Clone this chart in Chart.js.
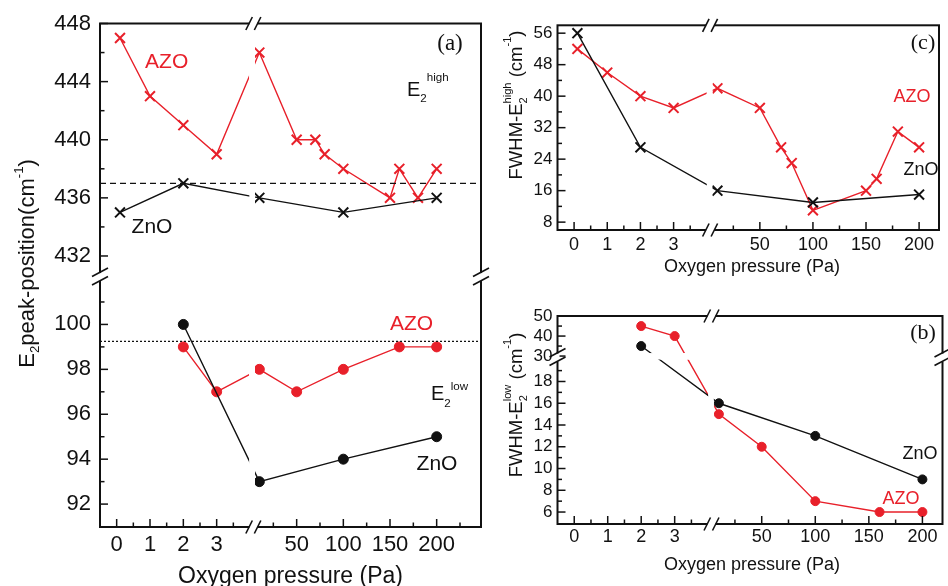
<!doctype html>
<html>
<head>
<script src="https://cdnjs.cloudflare.com/ajax/libs/Chart.js/4.4.1/chart.umd.min.js"></script>
<style>
  body { margin: 0; background: #fff; }
  canvas { position: absolute; }
</style>
</head>
<body>
<canvas id="ca" width="490" height="586" style="left:0;top:0"></canvas>
<canvas id="cc" width="458" height="280" style="left:490px;top:0"></canvas>
<canvas id="cb" width="458" height="306" style="left:490px;top:280px"></canvas>
<script>
// E2 high peak position (cm-1) vs oxygen pressure (Pa)
const azoHighP   = [0.1, 1, 2, 3, 10, 50, 70, 80, 100, 150, 160, 180, 200];
const azoHighPos = [447, 443, 441, 439, 446, 440, 440, 439, 438, 436, 438, 436, 438];
const znoHighP   = [0.1, 2, 10, 100, 200];
const znoHighPos = [435, 437, 436, 435, 436];
// E2 low peak position
const azoLowP   = [2, 3, 10, 50, 100, 160, 200];
const azoLowPos = [99, 97, 98, 97, 98, 99, 99];
const znoLowP   = [2, 10, 100, 200];
const znoLowPos = [100, 93, 94, 95];
const highRef = 437;
const lowRef = 99.25;
// FWHM of E2 high / E2 low (cm-1)
const azoHighFwhm = [52, 46, 40, 37, 42, 37, 27, 23, 11, 16, 19, 31, 27];
const znoHighFwhm = [56, 27, 16, 13, 15];
const azoLowFwhm  = [45, 40, 15, 12, 7, 6, 6];
const znoLowFwhm  = [35, 16, 13, 9];

// tick values
const xMajor = [0, 1, 2, 3, 50, 100, 150, 200];
const xMinor = [0.5, 1.5, 2.5, 3.5, 25, 75, 125, 175, 225];
const yAMajor = [92, 94, 96, 98, 100, 432, 436, 440, 444, 448];
const yAMinor = [93, 95, 97, 99, 101, 434, 438, 442, 446];
const yCMajor = [8, 16, 24, 32, 40, 48, 56];
const yCMinor = [12, 20, 28, 36, 44, 52];
const yBMajor = [6, 8, 10, 12, 14, 16, 18, 30, 40, 50];
const yBMinor = [7, 9, 11, 13, 15, 17, 19, 35, 45];

const RED = '#e8202a';
const INK = '#111';
const SANS = '"Liberation Sans", Arial, sans-serif';
const SERIF = '"Liberation Serif", "Times New Roman", serif';

// broken axes: 0-3 Pa linear, then a compressed 0-200 Pa segment after the break
const pressAxis = k => p => p < 4 ? p : 4 + k * p;
const xA = pressAxis(0.028);
const xBC = pressAxis(0.032);
const yA = v => v < 200 ? v - 90.98 : 11.13 + (v - 430.55) * 0.647;
const yB = v => v < 25 ? v : 20.2 + (v - 29.25) * 0.1838;
const yC = v => v;

function tickList(major, minor, map, lo, hi) {
  return major.map(v => ({ value: map(v), txt: String(v), minor: false }))
    .concat(minor.map(v => ({ value: map(v), txt: '', minor: true })))
    .filter(t => t.value >= lo - 1e-3 && t.value <= hi + 1e-3)
    .sort((a, b) => a.value - b.value);
}

function richText(ctx, runs, x, y, size, color, o = {}) {
  const sub = o.subShift ?? 0.27, sup = o.supShift ?? 0.55, r = o.ratio ?? 0.6;
  const fam = o.serif ? SERIF : SANS;
  ctx.save();
  ctx.translate(x, y);
  if (o.rot) ctx.rotate(-Math.PI / 2);
  ctx.fillStyle = color;
  ctx.textBaseline = 'alphabetic';
  ctx.textAlign = 'left';
  const parts = runs.map(([t, k]) => {
    const fs = k ? size * r : size;
    ctx.font = fs + 'px ' + fam;
    return { t, k, fs, w: ctx.measureText(t).width };
  });
  // lay out runs; 'supOver' sits above the preceding subscript
  let cx = 0, prevStart = 0, prevW = 0;
  const pos = parts.map(p => {
    let px;
    if (p.k === 'supOver') {
      px = prevStart;
      cx = prevStart + Math.max(prevW, p.w);
    } else {
      px = cx;
      cx += p.w;
    }
    prevStart = px; prevW = p.w;
    return px;
  });
  const off = o.center ? -cx / 2 : 0;
  parts.forEach((p, i) => {
    ctx.font = p.fs + 'px ' + fam;
    const dy = p.k === 'sub' ? size * sub : (p.k ? -size * sup : 0);
    ctx.fillText(p.t, pos[i] + off, dy);
  });
  ctx.restore();
}

function slash(ctx, x1, y1, x2, y2) {
  ctx.beginPath(); ctx.moveTo(x1, y1); ctx.lineTo(x2, y2); ctx.stroke();
}

const deco = cfg => ({
  id: 'deco',
  afterDatasetDraw(chart, args) {
    if (!chart.data.datasets[args.index].cut) return;
    const { ctx, chartArea: a, scales } = chart;
    ctx.save();
    ctx.fillStyle = '#fff';
    const x0 = scales.x.getPixelForValue(cfg.xCut[0]);
    const x1 = scales.x.getPixelForValue(cfg.xCut[1]);
    ctx.fillRect(x0, a.top, x1 - x0, a.height);
    if (cfg.yCut) {
      const yb = scales.y.getPixelForValue(cfg.yBreak);
      ctx.fillRect(a.left, yb + cfg.yCut[0], a.width, cfg.yCut[1] - cfg.yCut[0]);
    }
    ctx.restore();
  },
  afterDraw(chart) {
    const { ctx, chartArea: a, scales: { x, y } } = chart;
    ctx.save();
    ctx.strokeStyle = INK;
    // inward ticks
    ctx.lineWidth = 1.5;
    for (const t of x.ticks) {
      const px = x.getPixelForValue(t.value);
      slash(ctx, px, a.bottom, px, a.bottom - (t.minor ? 4.5 : 8));
    }
    for (const t of y.ticks) {
      const py = y.getPixelForValue(t.value);
      slash(ctx, a.left, py, a.left + (t.minor ? 4.5 : 8), py);
    }
    // frame
    ctx.lineWidth = 2;
    ctx.strokeRect(a.left, a.top, a.width, a.height);
    // break marks
    ctx.fillStyle = '#fff';
    ctx.lineWidth = 1.6;
    const xb = x.getPixelForValue(cfg.xBreak);
    for (const yy of [a.top, a.bottom]) {
      ctx.fillRect(xb - 4, yy - 2, 8, 4);
      slash(ctx, xb - 7.5, yy + 6.5, xb - 1, yy - 6.5);
      slash(ctx, xb + 1, yy + 6.5, xb + 7.5, yy - 6.5);
    }
    if (cfg.yBreak != null) {
      const yb = y.getPixelForValue(cfg.yBreak);
      for (const xx of [a.left, a.right]) {
        ctx.fillRect(xx - 2, yb - 4, 4, 8);
        slash(ctx, xx - 8, yb - 0.5, xx + 8, yb - 9);
        slash(ctx, xx - 8, yb + 8, xx + 8, yb - 0.5);
      }
    }
    ctx.restore();
    cfg.texts(ctx);
  }
});

function series(P, V, xm, ym, color, style, r, order) {
  return {
    data: P.map((p, i) => ({ x: xm(p), y: ym(V[i]) })),
    borderColor: color, backgroundColor: color,
    borderWidth: 1.4,
    pointStyle: style, pointRadius: r,
    pointBorderWidth: style === 'crossRot' ? 2 : 1,
    pointBackgroundColor: color, pointBorderColor: color,
    tension: 0, order, cut: true
  };
}

function refLine(yv, xm0, xm1, dash) {
  return {
    data: [{ x: xm0, y: yv }, { x: xm1, y: yv }],
    borderColor: INK, borderWidth: 1.3, borderDash: dash,
    pointRadius: 0, order: -1
  };
}

function panel(id, cfg) {
  new Chart(document.getElementById(id), {
    type: 'line',
    data: { datasets: cfg.datasets },
    options: {
      responsive: false,
      animation: false,
      events: [],
      layout: { padding: cfg.pad },
      plugins: { legend: { display: false }, tooltip: { enabled: false } },
      scales: {
        x: {
          type: 'linear', min: cfg.xMin, max: cfg.xMax,
          afterFit: s => { s.height = cfg.xH; },
          afterBuildTicks: s => { s.ticks = tickList(xMajor, xMinor, cfg.xMap, cfg.xMin, cfg.xMax); },
          grid: { display: false, drawTicks: false },
          border: { display: false },
          ticks: {
            autoSkip: false, maxRotation: 0, padding: cfg.xPad, color: INK,
            font: { family: SANS, size: cfg.xFont },
            callback: (v, i, t) => t[i].txt
          }
        },
        y: {
          type: 'linear', min: cfg.yMin, max: cfg.yMax,
          afterFit: s => { s.width = cfg.yW; },
          afterBuildTicks: s => { s.ticks = tickList(cfg.yMajor, cfg.yMinor, cfg.yMap, cfg.yMin, cfg.yMax); },
          grid: { display: false, drawTicks: false },
          border: { display: false },
          ticks: {
            autoSkip: false, padding: cfg.yPad, color: INK,
            font: { family: SANS, size: cfg.yFont },
            callback: (v, i, t) => t[i].txt
          }
        }
      }
    },
    plugins: [deco(cfg)]
  });
}

// (a) peak positions
panel('ca', {
  xMap: xA, xMin: -0.5, xMax: 10.93,
  yMap: yA, yMin: 0, yMax: yA(448), yMajor: yAMajor, yMinor: yAMinor,
  pad: { left: 40, top: 23.5, right: 9, bottom: 19 }, yW: 60, xH: 40,
  xFont: 22, yFont: 22, xPad: 5, yPad: 9,
  xBreak: 4.1, xCut: [3.98, 4.15], yBreak: 11.13, yCut: null,
  datasets: [
    series(azoHighP, azoHighPos, xA, yA, RED, 'crossRot', 7, 1),
    series(znoHighP, znoHighPos, xA, yA, INK, 'crossRot', 7, 0),
    series(azoLowP, azoLowPos, xA, yA, RED, 'circle', 5, 1),
    series(znoLowP, znoLowPos, xA, yA, INK, 'circle', 5, 0),
    refLine(yA(highRef), -0.5, 10.93, [6, 4]),
    refLine(yA(lowRef), -0.5, 10.93, [2, 2])
  ],
  texts: ctx => {
    richText(ctx, [['E'], ['2', 'sub'], ['peak-position(cm'], ['-1', 'sup'], [')']], 33.5, 263.5, 22, INK, { center: true, rot: true, supShift: 0.5 });
    richText(ctx, [['Oxygen pressure (Pa)']], 290.5, 583, 23, INK, { center: true });
    richText(ctx, [['AZO']], 166.7, 68, 21, RED, { center: true });
    richText(ctx, [['ZnO']], 152, 232.5, 21, INK, { center: true });
    richText(ctx, [['E'], ['2', 'sub'], ['high', 'sup']], 407, 96, 20, INK, { ratio: 0.58, supShift: 0.75, subShift: 0.28 });
    richText(ctx, [['AZO']], 411.5, 330, 21, RED, { center: true });
    richText(ctx, [['E'], ['2', 'sub'], ['low', 'sup']], 431, 400, 20, INK, { ratio: 0.58, supShift: 0.5, subShift: 0.35 });
    richText(ctx, [['ZnO']], 437, 470, 21, INK, { center: true });
    richText(ctx, [['(a)']], 450, 50, 23, INK, { center: true, serif: true });
  }
});

// (c) FWHM of E2 high
panel('cc', {
  xMap: xBC, xMin: -0.5, xMax: 11,
  yMap: yC, yMin: 6, yMax: 58, yMajor: yCMajor, yMinor: yCMinor,
  pad: { left: 22.5, top: 25.3, right: 1.5, bottom: 20 }, yW: 45, xH: 30,
  xFont: 18, yFont: 17, xPad: 4, yPad: 5,
  xBreak: 4.1, xCut: [4.0, 4.17], yBreak: null, yCut: null,
  datasets: [
    series(azoHighP, azoHighFwhm, xBC, yC, RED, 'crossRot', 7, 1),
    series(znoHighP, znoHighFwhm, xBC, yC, INK, 'crossRot', 7, 0)
  ],
  texts: ctx => {
    richText(ctx, [['FWHM-E'], ['2', 'sub'], ['high', 'supOver'], [' (cm'], ['-1', 'sup'], [')']], 31.7, 105, 18.5, INK, { center: true, rot: true, supShift: 0.6 });
    richText(ctx, [['Oxygen pressure (Pa)']], 262, 271.7, 18, INK, { center: true });
    richText(ctx, [['AZO']], 422, 101.5, 18, RED, { center: true });
    richText(ctx, [['ZnO']], 431, 174.5, 18, INK, { center: true });
    richText(ctx, [['(c)']], 433, 48.6, 22, INK, { center: true, serif: true });
  }
});

// (b) FWHM of E2 low
panel('cb', {
  xMap: xBC, xMin: -0.5, xMax: 11,
  yMap: yB, yMin: 4.9, yMax: 24.02, yMajor: yBMajor, yMinor: yBMinor,
  pad: { left: 22.5, top: 36, right: 1.5, bottom: 32 }, yW: 45, xH: 30,
  xFont: 18, yFont: 17, xPad: 2.5, yPad: 5,
  xBreak: 4.1, xCut: [4.0, 4.17], yBreak: 20.2, yCut: [-4.5, 2],
  datasets: [
    series(azoLowP, azoLowFwhm, xBC, yB, RED, 'circle', 4.5, 1),
    series(znoLowP, znoLowFwhm, xBC, yB, INK, 'circle', 4.5, 0)
  ],
  texts: ctx => {
    richText(ctx, [['FWHM-E'], ['2', 'sub'], ['low', 'supOver'], [' (cm'], ['-1', 'sup'], [')']], 31.7, 125, 18.5, INK, { center: true, rot: true, supShift: 0.6 });
    richText(ctx, [['Oxygen pressure (Pa)']], 262, 290, 18, INK, { center: true });
    richText(ctx, [['ZnO']], 430, 178.5, 18, INK, { center: true });
    richText(ctx, [['AZO']], 411, 223.5, 18, RED, { center: true });
    richText(ctx, [['(b)']], 433, 59, 22, INK, { center: true, serif: true });
  }
});
</script>
</body>
</html>
